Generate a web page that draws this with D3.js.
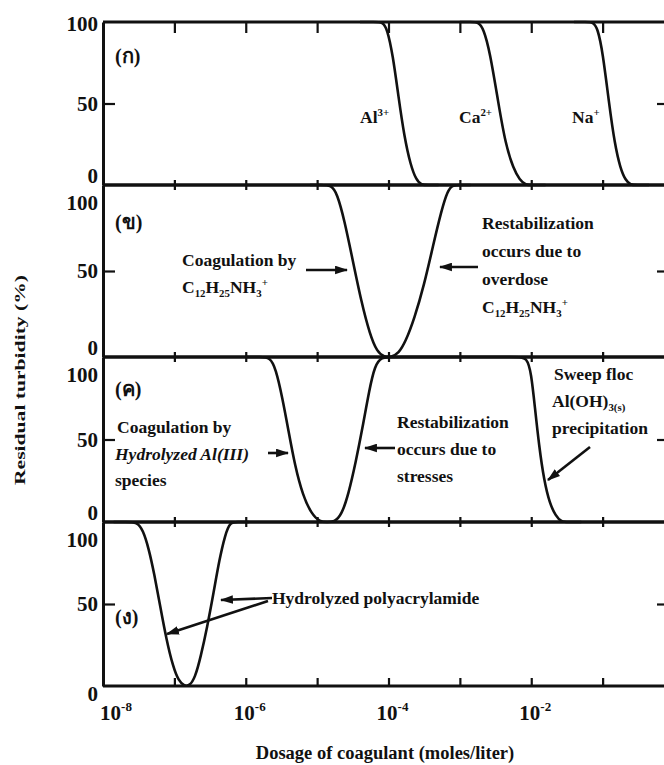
<!DOCTYPE html>
<html>
<head>
<meta charset="utf-8">
<script src="https://cdn.jsdelivr.net/npm/d3@7"></script>
<style>
  body { margin: 0; background: #fff; }
  svg text { font-family: "Liberation Serif", "Times New Roman", serif; font-weight: bold; fill: #111; }
</style>
</head>
<body>
<svg id="chart" width="664" height="765"></svg>
<script>
// ---- data ----
const panelTags = ['(ก)', '(ข)', '(ค)', '(ง)']
const doseLabelExp = [-8, -6, -4, -2]
const doseTickExp = [-7, -6, -5, -4, -3, -2, -1]
const turbLabels = [0, 50, 100]

// (ก) metal ions
const alLogDose = [-4.4, -4.2, -4.08, -4.02, -3.94, -3.86, -3.78, -3.69, -3.61, -3.54, -3.45, -3.3]
const alTurb = [100, 100, 100, 96, 80, 54, 30, 12, 3, 0, 0, 0]
const caLogDose = [-3.0, -2.85, -2.74, -2.67, -2.58, -2.46, -2.36, -2.25, -2.16, -2.08, -1.98, -1.8]
const caTurb = [100, 100, 100, 96, 82, 50, 25, 10, 3, 0, 0, 0]
const naLogDose = [-1.4, -1.24, -1.13, -1.07, -1.0, -0.91, -0.83, -0.75, -0.68, -0.61, -0.52, -0.35]
const naTurb = [100, 100, 100, 96, 82, 50, 25, 10, 3, 0, 0, 0]

// (ข) C12H25NH3+
const amineLogDose = [-5.1, -4.95, -4.8, -4.72, -4.62, -4.5, -4.38, -4.26, -4.16, -4.06, -3.96, -3.86, -3.76, -3.64, -3.5, -3.38, -3.26, -3.17, -3.1, -2.98, -2.85]
const amineTurb = [100, 100, 100, 95, 80, 56, 32, 13, 3, 0, 0, 2, 9, 22, 42, 64, 85, 97, 100, 100, 100]

// (ค) Al(III)
const alumLogDose = [-6.0, -5.8, -5.66, -5.58, -5.49, -5.4, -5.31, -5.2, -5.08, -4.96, -4.86, -4.76, -4.66, -4.56, -4.46, -4.36, -4.27, -4.19, -4.1, -3.95, -3.0, -2.2, -2.06, -2.0, -1.95, -1.89, -1.82, -1.74, -1.66, -1.58, -1.48, -1.3]
const alumTurb = [100, 100, 100, 93, 76, 55, 34, 16, 5, 0, 0, 0, 4, 17, 36, 58, 80, 95, 100, 100, 100, 100, 100, 90, 70, 46, 25, 11, 4, 0, 0, 0]

// (ง) hydrolyzed polyacrylamide
const pamLogDose = [-7.85, -7.68, -7.52, -7.44, -7.36, -7.28, -7.2, -7.11, -7.02, -6.94, -6.86, -6.79, -6.71, -6.63, -6.54, -6.45, -6.37, -6.29, -6.22, -6.12, -5.95]
const pamTurb = [100, 100, 100, 95, 84, 68, 49, 28, 12, 3, 0, 0, 5, 18, 36, 57, 77, 92, 100, 100, 100]

const curves = [
  { panel: 0, dose: alLogDose, turb: alTurb },
  { panel: 0, dose: caLogDose, turb: caTurb },
  { panel: 0, dose: naLogDose, turb: naTurb },
  { panel: 1, dose: amineLogDose, turb: amineTurb },
  { panel: 2, dose: alumLogDose, turb: alumTurb },
  { panel: 3, dose: pamLogDose, turb: pamTurb }
]

// ---- layout ----
const svg = d3.select('#chart')
const left = 103, right = 664
const edges = [22, 185, 357, 522, 686]

const x = d3.scaleLog().domain([1e-8, 1]).range([left, 674])
const ys = panelTags.map((t, i) => d3.scaleLinear().domain([0, 100]).range([edges[i + 1], edges[i]]))

svg.append('defs').append('marker')
  .attr('id', 'head')
  .attr('viewBox', '0 0 12 8')
  .attr('refX', 11).attr('refY', 4)
  .attr('markerUnits', 'userSpaceOnUse')
  .attr('markerWidth', 13).attr('markerHeight', 9)
  .attr('orient', 'auto')
  .append('path').attr('d', 'M0,0 L12,4 L0,8 Z').attr('fill', '#111')

// rich text with sub / superscripts
function rich(g, px, py, parts, size, anchor) {
  const t = g.append('text').attr('x', px).attr('y', py)
    .attr('font-size', size).attr('text-anchor', anchor || 'start')
  let shift = 0
  for (const p of parts) {
    const s = typeof p === 'string' ? p : p[0]
    const k = typeof p === 'string' ? null : p[1]
    const target = k === 'sup' ? -size * 0.42 : k === 'sub' ? size * 0.25 : 0
    const ts = t.append('tspan').text(s).attr('dy', target - shift)
    if (k) ts.attr('font-size', size * 0.62)
    if (k === 'it') ts.attr('font-style', 'italic').attr('font-size', size).attr('dy', -shift)
    shift = k === 'it' ? 0 : target
  }
  return t
}

// ---- axes ----
const axisG = svg.append('g')
const tickVals = doseTickExp.map(e => Math.pow(10, e))

edges.forEach((ey, i) => {
  if (i > 0 && i < 4) {
    axisG.append('g').attr('transform', `translate(0,${ey})`)
      .call(d3.axisBottom(x).tickValues(tickVals).tickFormat('').tickSize(5).tickSizeOuter(0))
  }
  axisG.append('g').attr('transform', `translate(0,${ey})`)
    .call(d3.axisTop(x).tickValues(tickVals).tickFormat('')
      .tickSize(i === 0 ? -11 : i === 4 ? 8 : 5).tickSizeOuter(0))
})

ys.forEach((y, i) => {
  axisG.append('g').attr('transform', `translate(${left},0)`)
    .call(d3.axisRight(y).tickValues([50]).tickFormat('').tickSize(12).tickSizeOuter(0))
  axisG.append('g').attr('transform', `translate(${right + 2},0)`)
    .call(d3.axisLeft(y).tickValues([50]).tickFormat('').tickSize(9).tickSizeOuter(0))
})

axisG.selectAll('.domain').attr('stroke', '#111').attr('stroke-width', 3)
axisG.selectAll('.tick line').attr('stroke', '#111').attr('stroke-width', 2.2)
// trim horizontal domains to the visible width
axisG.selectAll('path.domain').each(function () {
  const d = d3.select(this).attr('d')
  if (d && d.startsWith('M' + left) && !d.includes('V')) d3.select(this).attr('d', `M${left},0H${right + 2}`)
})

// y tick labels and panel tags
ys.forEach((y, i) => {
  turbLabels.forEach(v => {
    let cy = y(v)
    if (v === 100) cy += i === 0 ? 2 : 18
    if (v === 0) cy += i === 3 ? 8 : -9
    svg.append('text').attr('x', 98).attr('y', cy + 7)
      .attr('font-size', 21).attr('text-anchor', 'end').text(v)
  })
  rich(svg, 115, [63, 229, 396, 624][i], [panelTags[i]], 20)
})

// x tick labels
doseLabelExp.forEach(e => {
  const px = Math.max(x(Math.pow(10, e)) + 4, 116)
  rich(svg, px, 720, ['10', [String(e), 'sup']], 21, 'middle')
})

// axis titles
svg.append('text').attr('x', 385).attr('y', 759).attr('font-size', 18.5)
  .attr('text-anchor', 'middle').text('Dosage of coagulant (moles/liter)')
svg.append('text').attr('transform', 'translate(25,380) rotate(-90)')
  .attr('font-size', 14).attr('text-anchor', 'middle')
  .attr('textLength', 210).attr('lengthAdjust', 'spacingAndGlyphs')
  .text('Residual turbidity (%)')

// ---- curves ----
const line = d3.line().curve(d3.curveBasis)
curves.forEach(c => {
  const y = ys[c.panel]
  const pts = c.dose.map((d, k) => [x(Math.pow(10, d)), y(c.turb[k])])
  svg.append('path').attr('d', line(pts))
    .attr('fill', 'none').attr('stroke', '#111').attr('stroke-width', 2.6)
})

// ---- annotations ----
const fs = 17.5
rich(svg, 360, 123, ['Al', ['3+', 'sup']], fs)
rich(svg, 459, 123, ['Ca', ['2+', 'sup']], fs)
rich(svg, 572, 123, ['Na', ['+', 'sup']], fs)

rich(svg, 182, 266, ['Coagulation by'], fs)
rich(svg, 182, 293, ['C', ['12', 'sub'], 'H', ['25', 'sub'], 'NH', ['3', 'sub'], ['+', 'sup']], fs)
;['Restabilization', 'occurs due to', 'overdose'].forEach((s, k) => rich(svg, 482, 229 + k * 28, [s], fs))
rich(svg, 482, 313, ['C', ['12', 'sub'], 'H', ['25', 'sub'], 'NH', ['3', 'sub'], ['+', 'sup']], fs)

rich(svg, 117, 433, ['Coagulation by'], fs)
rich(svg, 115, 460, [['Hydrolyzed Al(III)', 'it']], fs)
rich(svg, 115, 486, ['species'], fs)
;['Restabilization', 'occurs due to', 'stresses'].forEach((s, k) => rich(svg, 397, 428 + k * 27, [s], fs))
rich(svg, 554, 380, ['Sweep floc'], fs)
rich(svg, 552, 407, ['Al(OH)', ['3(s)', 'sub']], fs)
rich(svg, 552, 434, ['precipitation'], fs)

rich(svg, 272, 604, ['Hydrolyzed polyacrylamide'], fs)

const arrows = [
  [306, 270, 347, 270], [478, 267, 440, 267],
  [268, 453, 288, 453], [395, 448, 365, 448], [590, 447, 548, 480],
  [272, 598, 221, 600], [268, 601, 167, 634]
]
arrows.forEach(a => {
  svg.append('line').attr('x1', a[0]).attr('y1', a[1]).attr('x2', a[2]).attr('y2', a[3])
    .attr('stroke', '#111').attr('stroke-width', 2.6).attr('marker-end', 'url(#head)')
})
</script>
</body>
</html>
